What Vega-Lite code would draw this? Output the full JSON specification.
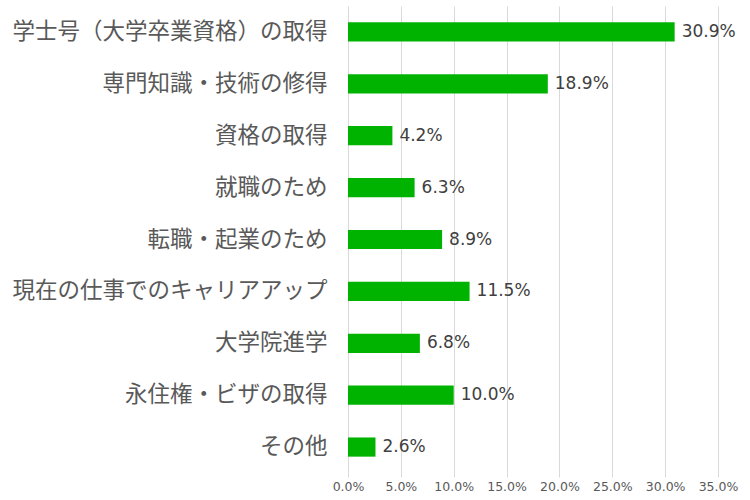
{
  "$schema": "https://vega.github.io/schema/vega-lite/v6.json",
  "autosize": "none",
  "width": 370,
  "height": 467,
  "padding": {"left": 348, "top": 6, "right": 32, "bottom": 27},
  "background": "white",
  "config": {"view": {"stroke": null}, "font": "Noto Sans CJK JP"},
  "data": {"values": [
    {"item": "学士号（大学卒業資格）の取得", "value": 0.309},
    {"item": "専門知識・技術の修得", "value": 0.189},
    {"item": "資格の取得", "value": 0.042},
    {"item": "就職のため", "value": 0.063},
    {"item": "転職・起業のため", "value": 0.089},
    {"item": "現在の仕事でのキャリアアップ", "value": 0.115},
    {"item": "大学院進学", "value": 0.068},
    {"item": "永住権・ビザの取得", "value": 0.100},
    {"item": "その他", "value": 0.026}
  ]},
  "encoding": {
    "y": {"field": "item", "type": "nominal", "sort": null,
      "scale": {"paddingInner": 0.63, "paddingOuter": 0.315},
      "axis": {"title": null, "domain": false, "ticks": false, "labelPadding": 21,
        "labelFontSize": 22.5, "labelColor": "#595959", "labelFont": "Noto Sans CJK JP", "labelLimit": 345}},
    "x": {"field": "value", "type": "quantitative",
      "scale": {"domain": [0, 0.35], "nice": false},
      "axis": {"title": null, "format": ".1%", "values": [0, 0.05, 0.1, 0.15, 0.2, 0.25, 0.3, 0.35],
        "labelOverlap": false, "labelFlush": false,
        "domain": false, "ticks": true, "tickSize": 4, "tickColor": "#d9d9d9", "gridColor": "#d9d9d9",
        "labelFontSize": 12.5, "labelColor": "#595959", "labelPadding": 3, "labelFont": "DejaVu Sans"}}
  },
  "layer": [
    {"mark": {"type": "bar", "color": "#00b300"}},
    {"mark": {"type": "text", "align": "left", "dx": 7, "fontSize": 17, "color": "#404040", "font": "DejaVu Sans"},
     "encoding": {"text": {"field": "value", "type": "quantitative", "format": ".1%"}}}
  ]
}
